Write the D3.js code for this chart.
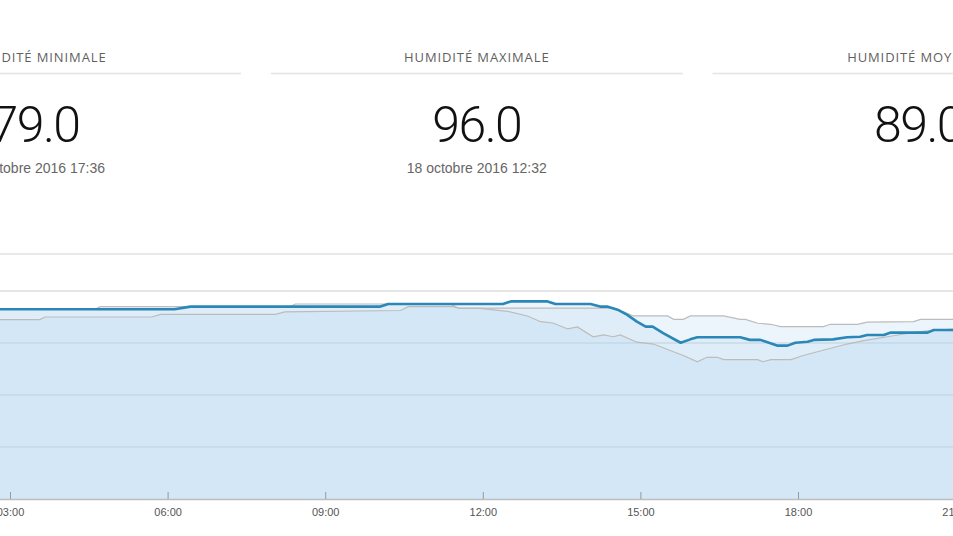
<!DOCTYPE html>
<html><head><meta charset="utf-8">
<script src="https://cdn.jsdelivr.net/npm/d3@7"></script>
<style>
html,body{margin:0;padding:0;background:#fff;overflow:hidden}
svg{display:block}
</style></head>
<body>
<svg id="chart" width="953" height="536"></svg>
<script>
// ---------- DATA ----------
const day = "2016-10-18";
const kpiTitles = ["HUMIDITÉ MINIMALE", "HUMIDITÉ MAXIMALE", "HUMIDITÉ MOYENNE"];
const kpiValues = ["79.0", "96.0", "89.0"];
const kpiDates  = ["18 octobre 2016 17:36", "18 octobre 2016 12:32", ""];

// main series (humidity of the day)
const meanTimes  = ["02:30","06:08","06:26","10:03","10:12","12:23","12:32","13:14","13:23","14:03","14:14","14:22","14:34","14:45","14:56","15:06","15:14","15:26","15:46","15:57","16:05","16:54","17:05","17:17","17:36","17:48","17:57","18:11","18:18","18:40","18:56","19:11","19:19","19:38","19:46","20:28","20:35","21:12"];
const meanValues = [93,93,94,94,95,95,96,96,95,95,94,94,92.8,90.8,88.2,86.3,86.3,83.8,80.1,81.4,82.2,82.2,81.2,81.2,79,79,80.1,80.5,81.2,81.4,82.2,82.4,83.1,83.1,84,84,85,85];

// upper grey reference series
const upperTimes  = ["02:30","04:37","04:43","08:20","08:26","11:23","11:32","14:26","14:41","14:52","15:31","15:38","15:49","15:57","16:35","16:54","17:00","17:14","17:29","17:40","18:29","18:37","19:08","19:19","20:12","20:20","21:12"];
const upperValues = [93,93,94,94,95,95,93.4,93.4,92,90.4,90.4,89.1,89.1,90.4,90.4,89.1,89.1,87.6,87.2,86.3,86.3,87.2,87.2,88,88.2,89.1,89.1];

// lower grey reference series
const lowerTimes  = ["02:30","03:34","03:40","05:42","05:52","08:03","08:14","10:26","10:35","11:26","11:34","11:57","12:28","12:51","13:06","13:20","13:37","13:48","14:06","14:18","14:29","14:37","14:56","15:15","15:34","15:49","16:05","16:16","16:28","16:35","17:14","17:20","17:29","17:52","18:06","18:34","18:56","19:15","19:49","20:12","20:28","20:58","21:12"];
const lowerValues = [89,89,90,90,91,91,92,92.5,94,94,93.3,93.3,92.2,90.4,88.2,87.7,85.4,86.2,82.4,83.1,82.4,83.1,80.3,79.6,77.1,75.2,72.8,74.5,74.5,73.6,73.6,72.8,73.6,73.6,75.2,77.7,79.6,80.9,82.8,84.1,84.7,85.4,85.6];

const tickHours = [0,3,6,9,12,15,18,21,24];
const gridValues = [20,40,60,80,100];

// ---------- SCALES ----------
const parse = d3.timeParse("%Y-%m-%d %H:%M");
const t0 = parse(day + " 00:00");
const t1 = d3.timeDay.offset(t0, 1);
const x = d3.scaleTime().domain([t0, t1]).range([-147.6, 1113.2]);
const y = d3.scaleLinear().domain([20, 100]).range([499, 291]);

const mk = (times, vals) => times.map((t, i) => ({ t: parse(day + " " + t), v: vals[i] }));
const meanData = mk(meanTimes, meanValues);
const upperData = mk(upperTimes, upperValues);
const lowerData = mk(lowerTimes, lowerValues);

const svg = d3.select("#chart");

// ---------- KPI HEADER ----------
const kpiX = d3.scalePoint().domain(kpiTitles).range([35, 918.5]);
const kpi = svg.append("g").selectAll("g").data(kpiTitles).join("g")
  .attr("transform", d => `translate(${kpiX(d)},0)`);
kpi.append("text").text(d => d)
  .attr("y", 62).attr("text-anchor", "middle")
  .style("font-family", "'Open Sans', sans-serif").style("font-size", "13px")
  .style("letter-spacing", "0.9px").style("fill", "#5f5f5f");
kpi.append("line").attr("x1", -206).attr("x2", 206).attr("y1", 73.5).attr("y2", 73.5)
  .style("stroke", "#e4e4e4").style("stroke-width", 1.5);
kpi.append("text").text((d, i) => kpiValues[i])
  .attr("y", 142).attr("text-anchor", "middle")
  .style("font-family", "Roboto, sans-serif").style("font-weight", 300)
  .style("font-size", "50px").style("letter-spacing", "-1.5px").style("fill", "#111");
kpi.append("text").text((d, i) => kpiDates[i])
  .attr("y", 173).attr("text-anchor", "middle")
  .style("font-family", "'Liberation Sans', Arial, sans-serif").style("font-size", "14px")
  .style("fill", "#666");

// ---------- CHART ----------
const plot = svg.append("g");
// top frame line
plot.append("line").attr("x1", x(t0) - 20).attr("x2", x(t1)).attr("y1", 254).attr("y2", 254)
  .style("stroke", "#e2e2e2").style("stroke-width", 1.5);
// gridlines (under fills)
plot.append("g").selectAll("line").data(gridValues.slice(1)).join("line")
  .attr("x1", x(t0) - 20).attr("x2", x(t1))
  .attr("y1", d => y(d)).attr("y2", d => y(d))
  .style("stroke", "#cdcdcd").style("stroke-width", 1.2);

const area = d3.area().x(d => x(d.t)).y0(y(20)).y1(d => y(d.v));
const line = d3.line().x(d => x(d.t)).y(d => y(d.v));
const fillC = "rgba(178,215,240,0.25)";
[upperData, meanData, lowerData].forEach(s => {
  plot.append("path").datum(s).attr("d", area).style("fill", fillC);
});
[upperData, lowerData].forEach(s => {
  plot.append("path").datum(s).attr("d", line)
    .style("fill", "none").style("stroke", "#bcbcbc").style("stroke-width", 1.2);
});
plot.append("path").datum(meanData).attr("d", line)
  .style("fill", "none").style("stroke", "#2a87b8").style("stroke-width", 2.6)
  .style("stroke-linejoin", "round");

// x axis
const xAxis = d3.axisBottom(x)
  .tickValues(tickHours.map(h => d3.timeHour.offset(t0, h)))
  .tickFormat(d3.timeFormat("%H:%M"))
  .tickSize(-7).tickPadding(9);
const gx = plot.append("g").attr("transform", "translate(0,499)").call(xAxis);
gx.select(".domain").style("stroke", "#bdbdbd").style("stroke-width", 1.6);
gx.selectAll(".tick line").style("stroke", "#9a9a9a");
gx.selectAll(".tick text")
  .style("font-family", "'Liberation Sans', Arial, sans-serif").style("font-size", "11px")
  .style("fill", "#555");
</script>
</body></html>
